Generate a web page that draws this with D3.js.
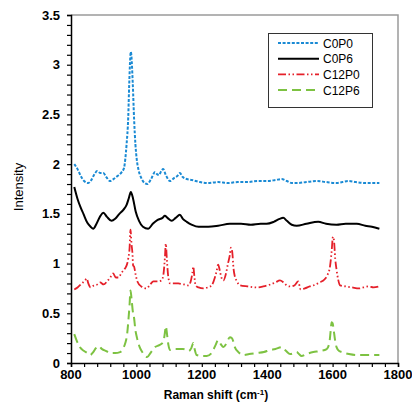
<!DOCTYPE html>
<html>
<head>
<meta charset="utf-8">
<script src="https://cdn.jsdelivr.net/npm/d3@7"></script>
<style>
  body { margin: 0; background: #fff; }
  svg { font-family: "Liberation Sans", Arial, sans-serif; }
</style>
</head>
<body>
<div id="chart"></div>
<script>
// DATA ([Raman shift, intensity])
const seriesNames = ['C0P0', 'C0P6', 'C12P0', 'C12P6'];

const c0p0 = [[810,2.00],[820,1.95],[830,1.88],[840,1.83],[853,1.81],[862,1.84],[872,1.90],[880,1.93],[890,1.91],[899,1.91],[908,1.87],[919,1.83],[930,1.85],[942,1.88],[955,1.92],[962,1.96],[966,2.05],[970,2.2],[975,2.47],[978,2.8],[983,3.13],[989,2.8],[993,2.45],[997,2.2],[1001,2.05],[1006,1.95],[1015,1.86],[1025,1.81],[1033,1.80],[1045,1.85],[1057,1.92],[1063,1.90],[1069,1.89],[1076,1.93],[1082,1.95],[1090,1.89],[1103,1.83],[1115,1.86],[1125,1.88],[1133,1.91],[1142,1.87],[1154,1.85],[1170,1.84],[1194,1.82],[1220,1.81],[1250,1.82],[1280,1.81],[1310,1.82],[1340,1.82],[1370,1.83],[1400,1.83],[1425,1.84],[1444,1.85],[1460,1.83],[1475,1.81],[1490,1.81],[1520,1.82],[1551,1.83],[1580,1.82],[1612,1.81],[1630,1.82],[1648,1.83],[1670,1.82],[1700,1.81],[1720,1.81],[1743,1.81]];

const c0p6 = [[810,1.77],[820,1.65],[830,1.56],[838,1.50],[850,1.41],[860,1.37],[868,1.35],[878,1.40],[890,1.48],[899,1.51],[910,1.47],[924,1.43],[935,1.45],[948,1.50],[960,1.54],[970,1.59],[977,1.66],[983,1.72],[990,1.65],[998,1.52],[1008,1.43],[1020,1.37],[1036,1.35],[1050,1.40],[1065,1.44],[1080,1.46],[1087,1.48],[1095,1.46],[1108,1.43],[1120,1.46],[1133,1.49],[1142,1.45],[1154,1.42],[1170,1.39],[1190,1.37],[1220,1.37],[1250,1.38],[1286,1.40],[1320,1.40],[1350,1.39],[1380,1.40],[1398,1.40],[1420,1.42],[1438,1.45],[1449,1.46],[1460,1.43],[1475,1.39],[1490,1.38],[1520,1.40],[1556,1.42],[1580,1.40],[1612,1.39],[1640,1.40],[1674,1.40],[1700,1.38],[1720,1.37],[1743,1.35]];

const c12p0 = [[810,0.74],[820,0.76],[833,0.80],[843,0.83],[848,0.85],[853,0.80],[860,0.76],[870,0.78],[880,0.79],[889,0.81],[900,0.79],[910,0.82],[920,0.86],[929,0.90],[937,0.86],[945,0.86],[955,0.91],[965,0.95],[972,1.00],[975,1.05],[979,1.15],[982,1.34],[985,1.20],[988,1.10],[990,0.98],[993,0.97],[997,0.90],[1003,0.82],[1015,0.77],[1031,0.75],[1042,0.79],[1052,0.82],[1065,0.82],[1077,0.83],[1083,0.90],[1087,1.05],[1090,1.20],[1093,1.05],[1097,0.88],[1103,0.80],[1115,0.80],[1128,0.80],[1145,0.79],[1159,0.78],[1166,0.82],[1171,0.90],[1174,0.97],[1177,0.88],[1181,0.78],[1190,0.76],[1205,0.75],[1218,0.76],[1230,0.78],[1240,0.86],[1245,0.92],[1250,0.99],[1255,0.93],[1260,0.86],[1266,0.83],[1274,0.90],[1280,1.00],[1286,1.09],[1289,1.16],[1293,1.12],[1297,0.95],[1301,0.87],[1306,0.83],[1317,0.78],[1340,0.77],[1368,0.76],[1388,0.77],[1410,0.79],[1425,0.81],[1439,0.83],[1450,0.81],[1460,0.78],[1470,0.77],[1483,0.78],[1495,0.82],[1502,0.74],[1515,0.75],[1530,0.77],[1541,0.78],[1560,0.81],[1575,0.84],[1585,0.89],[1592,0.97],[1597,1.12],[1601,1.27],[1604,1.24],[1608,1.05],[1612,0.94],[1617,0.84],[1623,0.78],[1640,0.77],[1660,0.76],[1680,0.75],[1694,0.76],[1710,0.77],[1725,0.76],[1743,0.77]];

const c12p6 = [[810,0.29],[818,0.22],[827,0.16],[840,0.12],[850,0.10],[858,0.08],[868,0.11],[876,0.15],[884,0.17],[895,0.14],[908,0.12],[919,0.10],[935,0.10],[950,0.11],[960,0.15],[966,0.20],[972,0.30],[976,0.45],[979,0.58],[982,0.73],[985,0.65],[989,0.52],[993,0.45],[997,0.33],[1002,0.25],[1010,0.16],[1020,0.10],[1033,0.06],[1045,0.11],[1057,0.16],[1070,0.18],[1082,0.21],[1087,0.30],[1090,0.37],[1094,0.28],[1098,0.18],[1103,0.13],[1120,0.14],[1143,0.14],[1159,0.12],[1168,0.15],[1174,0.20],[1178,0.14],[1184,0.08],[1200,0.07],[1215,0.07],[1230,0.10],[1242,0.18],[1250,0.23],[1258,0.19],[1266,0.16],[1276,0.20],[1286,0.26],[1292,0.25],[1296,0.22],[1301,0.16],[1312,0.11],[1327,0.08],[1345,0.09],[1368,0.10],[1390,0.11],[1408,0.13],[1425,0.14],[1444,0.16],[1458,0.12],[1470,0.09],[1482,0.10],[1490,0.11],[1497,0.09],[1505,0.07],[1520,0.09],[1541,0.11],[1560,0.12],[1582,0.14],[1590,0.20],[1594,0.32],[1597,0.41],[1600,0.40],[1603,0.34],[1608,0.22],[1612,0.16],[1620,0.12],[1628,0.11],[1650,0.09],[1674,0.08],[1700,0.08],[1720,0.08],[1743,0.08]];

const xTicks = [800, 1000, 1200, 1400, 1600, 1800];
const yTicks = [0, 0.5, 1, 1.5, 2, 2.5, 3, 3.5];

// LAYOUT
const width = 412;
const height = 402;
const margin = { top: 15, right: 14, bottom: 39, left: 71 };

const styles = [
  { color: '#1a8ad4', dash: '3,1.6', w: 2 },
  { color: '#000000', dash: null, w: 2 },
  { color: '#e5202a', dash: '8,2.5,1.5,2.5,1.5,2.5', w: 1.8 },
  { color: '#7dc242', dash: '9,5', w: 2 }
];
const allSeries = [c0p0, c0p6, c12p0, c12p6];

const svg = d3.select('#chart').append('svg')
  .attr('width', width)
  .attr('height', height);

const x = d3.scaleLinear().domain([800, 1800]).range([margin.left, width - margin.right]);
const y = d3.scaleLinear().domain([0, 3.5]).range([height - margin.bottom, margin.top]);

// FRAME (top and right in gray)
svg.append('path')
  .attr('d', `M${x(800)},${y(3.5)}H${x(1800)}V${y(0)}`)
  .attr('fill', 'none')
  .attr('stroke', '#9a9a9a')
  .attr('stroke-width', 1.5);

// MINOR TICKS
const xAxis = svg.append('g')
  .attr('transform', `translate(0,${y(0)})`)
  .call(d3.axisBottom(x).tickValues(d3.range(800, 1801, 40)).tickSize(4).tickFormat(''));
const yAxis = svg.append('g')
  .attr('transform', `translate(${x(800)},0)`)
  .call(d3.axisLeft(y).tickValues(d3.range(0, 36).map(d => d / 10)).tickSize(4).tickFormat(''));

[xAxis, yAxis].forEach(g => {
  g.select('.domain').attr('stroke', '#000').attr('stroke-width', 1.5);
  g.selectAll('.tick line').attr('stroke', '#000').attr('stroke-width', 1.2);
});

// TICK LABELS
svg.append('g').selectAll('text')
  .data(xTicks)
  .join('text')
  .attr('x', d => x(d))
  .attr('y', y(0) + 16)
  .attr('text-anchor', 'middle')
  .style('font-size', '13px')
  .style('font-weight', 'bold')
  .text(d => d);

svg.append('g').selectAll('text')
  .data(yTicks)
  .join('text')
  .attr('x', x(800) - 11)
  .attr('y', d => y(d) + 4.5)
  .attr('text-anchor', 'end')
  .style('font-size', '13px')
  .style('font-weight', 'bold')
  .text(d => d);

// AXIS TITLES
svg.append('text')
  .attr('transform', `translate(23,${(y(0) + y(3.5)) / 2 - 2}) rotate(-90)`)
  .attr('text-anchor', 'middle')
  .style('font-size', '13px')
  .text('Intensity');

const xt = svg.append('text')
  .attr('x', 216)
  .attr('y', 399)
  .attr('text-anchor', 'middle')
  .style('font-size', '12px')
  .style('font-weight', 'bold')
  .text('Raman shift (cm');
xt.append('tspan').attr('dy', -4).style('font-size', '8px').text('-1');
xt.append('tspan').attr('dy', 4).text(')');

// LINES
const line = d3.line()
  .x(d => x(d[0]))
  .y(d => y(d[1]))
  .curve(d3.curveMonotoneX);

allSeries.forEach((s, i) => {
  svg.append('path')
    .datum(s)
    .attr('fill', 'none')
    .attr('stroke', styles[i].color)
    .attr('stroke-width', styles[i].w)
    .attr('stroke-dasharray', styles[i].dash)
    .attr('stroke-linejoin', 'round')
    .attr('d', line);
});

// LEGEND
const legend = svg.append('g');
legend.append('rect')
  .attr('x', 268.5).attr('y', 33.5)
  .attr('width', 104).attr('height', 74)
  .attr('fill', '#fff')
  .attr('stroke', '#333')
  .attr('stroke-width', 1);

seriesNames.forEach((name, i) => {
  const ly = 43 + i * 15.7;
  legend.append('line')
    .attr('x1', 278).attr('x2', 319)
    .attr('y1', ly).attr('y2', ly)
    .attr('stroke', styles[i].color)
    .attr('stroke-width', styles[i].w)
    .attr('stroke-dasharray', styles[i].dash);
  legend.append('text')
    .attr('x', 323)
    .attr('y', ly + 4.5)
    .style('font-size', '12px')
    .text(name);
});
</script>
</body>
</html>
